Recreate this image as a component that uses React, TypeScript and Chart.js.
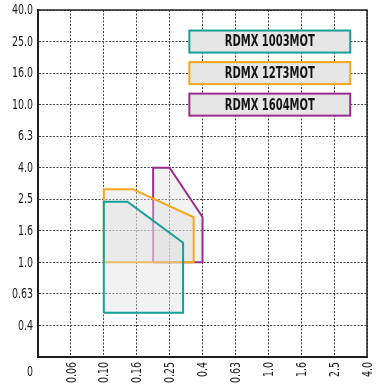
import React, { useEffect, useRef } from "react";
import { Chart, registerables } from "chart.js";

Chart.register(...registerables);

const X_LABELS = ["0", "0.06", "0.10", "0.16", "0.25", "0.4", "0.63", "1.0", "1.6", "2.5", "4.0"];
const Y_LABELS = ["", "0.4", "0.63", "1.0", "1.6", "2.5", "4.0", "6.3", "10.0", "16.0", "25.0", "40.0"];

const SERIES_NAMES = ["RDMX 1003MOT", "RDMX 12T3MOT", "RDMX 1604MOT"];
const SERIES_COLORS = ["#16a09a", "#f6a71c", "#9d2a8d"];

// polygon vertices in tick-position units (index along the labelled axes)
const TEAL_X = [2, 2, 2.72, 4.41, 4.41, 2];
const TEAL_Y = [1.4, 4.92, 4.92, 3.62, 1.4, 1.4];
const ORANGE_X = [2, 2, 2.88, 4.73, 4.73, 2];
const ORANGE_Y = [3, 5.32, 5.32, 4.43, 3, 3];
const PURPLE_X = [3.5, 3.5, 4, 5, 5, 3.5];
const PURPLE_Y = [3, 6, 6, 4.44, 3, 3];

// legend rows sit on these y tick positions
const LEGEND_ROWS = [10, 9, 8];

const FONT = "'DejaVu Sans Condensed', 'Liberation Sans Narrow', sans-serif";
const SQUEEZE = 0.75;

const toPts = (xs: number[], ys: number[]) => xs.map((x, i) => ({ x, y: ys[i] }));

const frameLegendPlugin = {
  id: "frameLegend",
  afterDatasetsDraw(chart: any) {
    const { ctx, chartArea, scales } = chart;
    const xs = scales.x;
    const ys = scales.y;
    ctx.save();
    ctx.setLineDash([]);
    ctx.strokeStyle = "#222";
    ctx.lineWidth = 1.5;
    ctx.strokeRect(chartArea.left, chartArea.top, chartArea.right - chartArea.left, chartArea.bottom - chartArea.top);

    // legend boxes
    const x0 = xs.getPixelForValue(4.6);
    const x1 = xs.getPixelForValue(9.49);
    const h = 22;
    SERIES_NAMES.forEach((name, i) => {
      const cy = ys.getPixelForValue(LEGEND_ROWS[i]);
      ctx.fillStyle = "#e6e6e6";
      ctx.fillRect(x0, cy - h / 2, x1 - x0, h);
      ctx.strokeStyle = SERIES_COLORS[i];
      ctx.lineWidth = 2;
      ctx.strokeRect(x0, cy - h / 2, x1 - x0, h);
      ctx.save();
      ctx.translate((x0 + x1) / 2, cy + 1);
      ctx.scale(0.74, 1);
      ctx.fillStyle = "#151515";
      ctx.font = `bold 15px ${FONT}`;
      ctx.textAlign = "center";
      ctx.textBaseline = "middle";
      ctx.fillText(name, 0, 0);
      ctx.restore();
    });

    // tick labels (condensed)
    ctx.fillStyle = "#1a1a1a";
    ctx.font = `14px ${FONT}`;
    ctx.textBaseline = "middle";
    Y_LABELS.forEach((lab, i) => {
      if (!lab) return;
      ctx.save();
      ctx.translate(chartArea.left - 5, ys.getPixelForValue(i) + 0.5);
      ctx.scale(SQUEEZE, 1);
      ctx.textAlign = "right";
      ctx.fillText(lab, 0, 0);
      ctx.restore();
    });
    X_LABELS.forEach((lab, i) => {
      ctx.save();
      if (i === 0) {
        ctx.translate(chartArea.left - 5, chartArea.bottom + 15);
        ctx.scale(SQUEEZE, 1);
        ctx.textAlign = "right";
      } else {
        ctx.translate(xs.getPixelForValue(i) + 1, chartArea.bottom + 5);
        ctx.rotate(-Math.PI / 2);
        ctx.scale(SQUEEZE, 1);
        ctx.textAlign = "right";
      }
      ctx.fillText(lab, 0, 0);
      ctx.restore();
    });
    ctx.restore();
  },
};

export default function App() {
  const ref = useRef<HTMLCanvasElement | null>(null);
  useEffect(() => {
    if (!ref.current) return;
    const polys = [
      toPts(TEAL_X, TEAL_Y),
      toPts(ORANGE_X, ORANGE_Y),
      toPts(PURPLE_X, PURPLE_Y),
    ];
    const chart = new Chart(ref.current, {
      type: "scatter",
      data: {
        datasets: polys.map((pts, i) => ({
          label: SERIES_NAMES[i],
          data: pts,
          showLine: true,
          borderColor: SERIES_COLORS[i],
          borderWidth: 2,
          borderJoinStyle: "miter",
          backgroundColor: "rgba(222,222,222,0.4)",
          fill: "shape",
          pointRadius: 0,
          pointHoverRadius: 0,
          tension: 0,
        })),
      },
      options: {
        responsive: false,
        animation: false,
        devicePixelRatio: 1,
        layout: { padding: { left: 0, right: 10, top: 10, bottom: 0 } },
        plugins: { legend: { display: false }, tooltip: { enabled: false } },
        scales: {
          x: {
            type: "linear",
            min: 0,
            max: 10,
            afterFit: (s: any) => { s.height = 30; s.paddingLeft = 0; s.paddingRight = 0; },
            afterBuildTicks: (s: any) => { s.ticks = X_LABELS.map((_, i) => ({ value: i })); },
            ticks: { display: false, stepSize: 1, autoSkip: false },
            grid: { color: "#444", lineWidth: 1, drawTicks: false },
            border: { display: true, color: "#1a1a1a", width: 2, dash: [2, 1.5] },
          },
          y: {
            type: "linear",
            min: 0,
            max: 11,
            afterFit: (s: any) => { s.width = 38; s.paddingTop = 0; s.paddingBottom = 0; },
            afterBuildTicks: (s: any) => { s.ticks = Y_LABELS.map((_, i) => ({ value: i })); },
            ticks: { display: false, stepSize: 1, autoSkip: false },
            grid: { color: "#444", lineWidth: 1, drawTicks: false },
            border: { display: true, color: "#1a1a1a", width: 2, dash: [2, 1.5] },
          },
        },
      },
      plugins: [frameLegendPlugin],
    } as any);
    return () => chart.destroy();
  }, []);
  return (
    <div style={{ position: "absolute", left: 0, top: 0, width: 377, height: 387, background: "#fff" }}>
      <canvas ref={ref} width={377} height={387} />
    </div>
  );
}
